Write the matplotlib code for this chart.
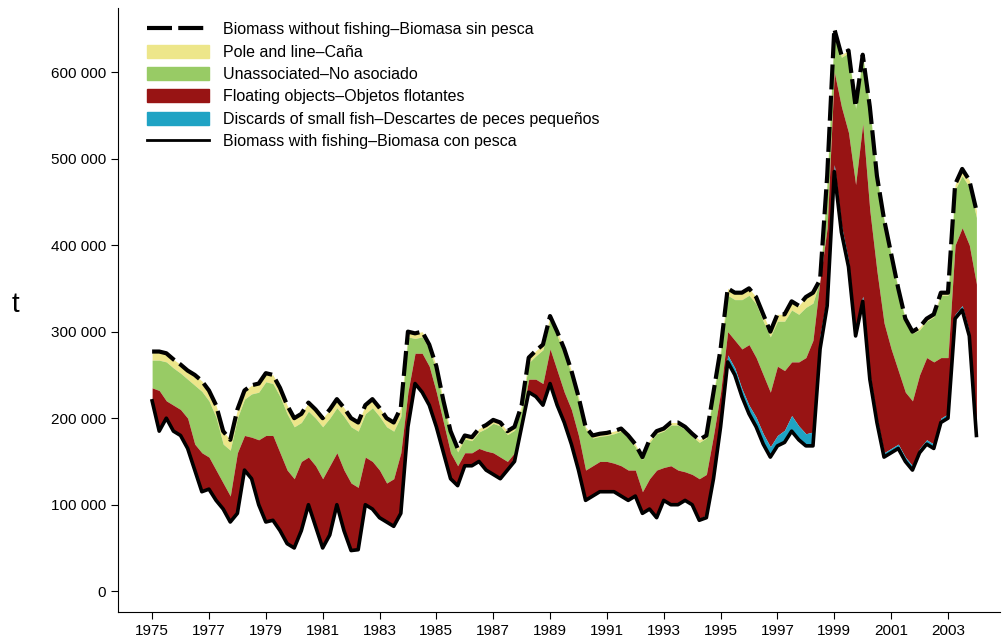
import numpy as np
import matplotlib
matplotlib.use("Agg")
import matplotlib.pyplot as plt
from matplotlib.patches import Patch
from matplotlib.lines import Line2D

plt.rcParams['font.family'] = ['Liberation Sans', 'DejaVu Sans']

# quarterly, 1975.0 .. 2004.0, thousands of tonnes
years = np.arange(117) * 0.25 + 1975.0

without_fishing = [277,277,275,268, 262,255,250,243, 232,215,185,175, 210,232,238,240,
    252,250,235,215, 200,205,218,210, 200,210,222,212, 200,195,215,222, 212,200,195,212,
    300,298,300,285, 260,220,185,165, 180,178,188,192, 198,195,185,190, 215,270,278,285,
    318,300,280,255, 225,190,180,182, 183,185,188,180, 170,155,175,185, 188,195,195,190,
    182,175,180,230, 280,350,345,345, 350,340,320,300, 320,320,335,330, 340,345,360,480,
    650,620,625,560, 620,560,480,430, 390,350,315,300, 305,315,320,345, 345,470,488,475, 440]

pole_line = [10,10,10,10, 10,10,12,12, 12,14,15,12, 10,10,10,10,
    10,10,10,10, 10,10,10,10, 10,10,10,10, 10,10,10,10, 10,10,10,10,
    6,6,6,5, 5,5,5,4, 4,4,4,4, 4,4,4,4, 5,6,6,6,
    5,5,5,4, 4,3,3,3, 3,3,3,3, 3,3,3,3, 3,3,3,3,
    3,3,3,3, 5,8,8,8, 8,8,8,6, 8,8,10,10, 12,12,12,8,
    3,3,3,2, 2,2,2,2, 2,2,2,2, 3,3,3,3, 3,6,8,8, 8]

floating_level = [235,232,220,215, 210,200,170,160, 155,140,125,110, 160,180,178,175,
    180,180,160,140, 130,150,155,145, 130,145,160,140, 125,120,155,150, 140,125,130,160,
    230,275,275,260, 230,195,160,145, 160,160,165,162, 160,155,150,160, 200,245,245,240,
    280,255,230,210, 180,140,145,150, 150,148,145,140, 140,115,130,140, 143,145,140,138,
    135,130,135,180, 230,300,290,280, 285,270,250,230, 260,255,265,265, 270,290,360,420,
    600,560,530,470, 540,440,370,310, 280,255,230,220, 250,270,265,270, 270,400,420,400, 355]

discards = [0]*76 + [2,2,3,4, 6,8,8,9, 10,11,12,12, 12,14,18,16, 14,16,16,12,
    8,8,7,6, 6,6,5,5, 5,5,5,5, 5,5,5,5, 5,5,5,5, 3]

with_fishing = [220,185,200,185, 180,165,140,115, 118,105,95,80, 90,140,130,100,
    80,82,70,55, 50,70,100,75, 50,65,100,70, 47,48,100,95, 85,80,75,90,
    190,240,230,215, 190,160,130,122, 145,145,150,140, 135,130,140,150, 190,230,225,215,
    240,215,195,170, 140,105,110,115, 115,115,110,105, 110,90,95,85, 105,100,100,105,
    100,82,85,130, 190,265,250,225, 205,190,170,155, 168,172,185,175, 168,168,280,330,
    485,415,375,295, 335,245,195,155, 160,165,150,140, 160,170,165,195, 200,315,325,295, 180]

top = np.array(without_fishing) * 1000.0
unas = top - np.array(pole_line) * 1000.0
flt = np.array(floating_level) * 1000.0
bot = np.array(with_fishing) * 1000.0
dsc = bot + np.array(discards) * 1000.0
flt = np.maximum(flt, dsc)
unas = np.maximum(unas, flt)

c_pole, c_unas, c_float, c_disc = '#ede68a', '#98cb65', '#981414', '#1fa3c4'

fig = plt.figure(figsize=(10.02, 6.44), dpi=100)
ax = fig.add_axes([118/1002, 1-612/644, 882/1002, 604/644])
ax.fill_between(years, unas, top, color=c_pole, lw=0)
ax.fill_between(years, flt, unas, color=c_unas, lw=0)
ax.fill_between(years, dsc, flt, color=c_float, lw=0)
ax.fill_between(years, bot, dsc, color=c_disc, lw=0)
ax.plot(years, top, color='black', lw=3, dashes=(6, 1.5))
ax.plot(years, bot, color='black', lw=2.6)

ax.set_xlim(1973.8, 2004.83)
ax.set_ylim(-24000, 674000)
ax.set_xticks(np.arange(1975, 2004, 2))
ax.set_xticklabels([str(y) for y in range(1975, 2004, 2)], fontsize=11)
yt = np.arange(0, 600001, 100000)
ax.set_yticks(yt)
ax.set_yticklabels([f"{int(v):,}".replace(',', ' ') for v in yt], fontsize=11)
for s in ['top', 'right']:
    ax.spines[s].set_visible(False)
ax.tick_params(direction='out', length=5)
fig.text(15/1002, 1-305/644, 't', fontsize=20, ha='center', va='center')

handles = [Line2D([], [], color='black', lw=3, dashes=(6, 1.5)),
           Patch(color=c_pole), Patch(color=c_unas), Patch(color=c_float), Patch(color=c_disc),
           Line2D([], [], color='black', lw=2)]
labels = ['Biomass without fishing–Biomasa sin pesca', 'Pole and line–Caña',
          'Unassociated–No asociado', 'Floating objects–Objetos flotantes',
          'Discards of small fish–Descartes de peces pequeños', 'Biomass with fishing–Biomasa con pesca']
ax.legend(handles, labels, loc='upper left', bbox_to_anchor=(0.02, 0.995), frameon=False,
          fontsize=11.5, handlelength=3.9, handleheight=0.9, labelspacing=0.45, borderaxespad=0.3,
          handletextpad=0.9)

fig.savefig('out.png', dpi=100)
